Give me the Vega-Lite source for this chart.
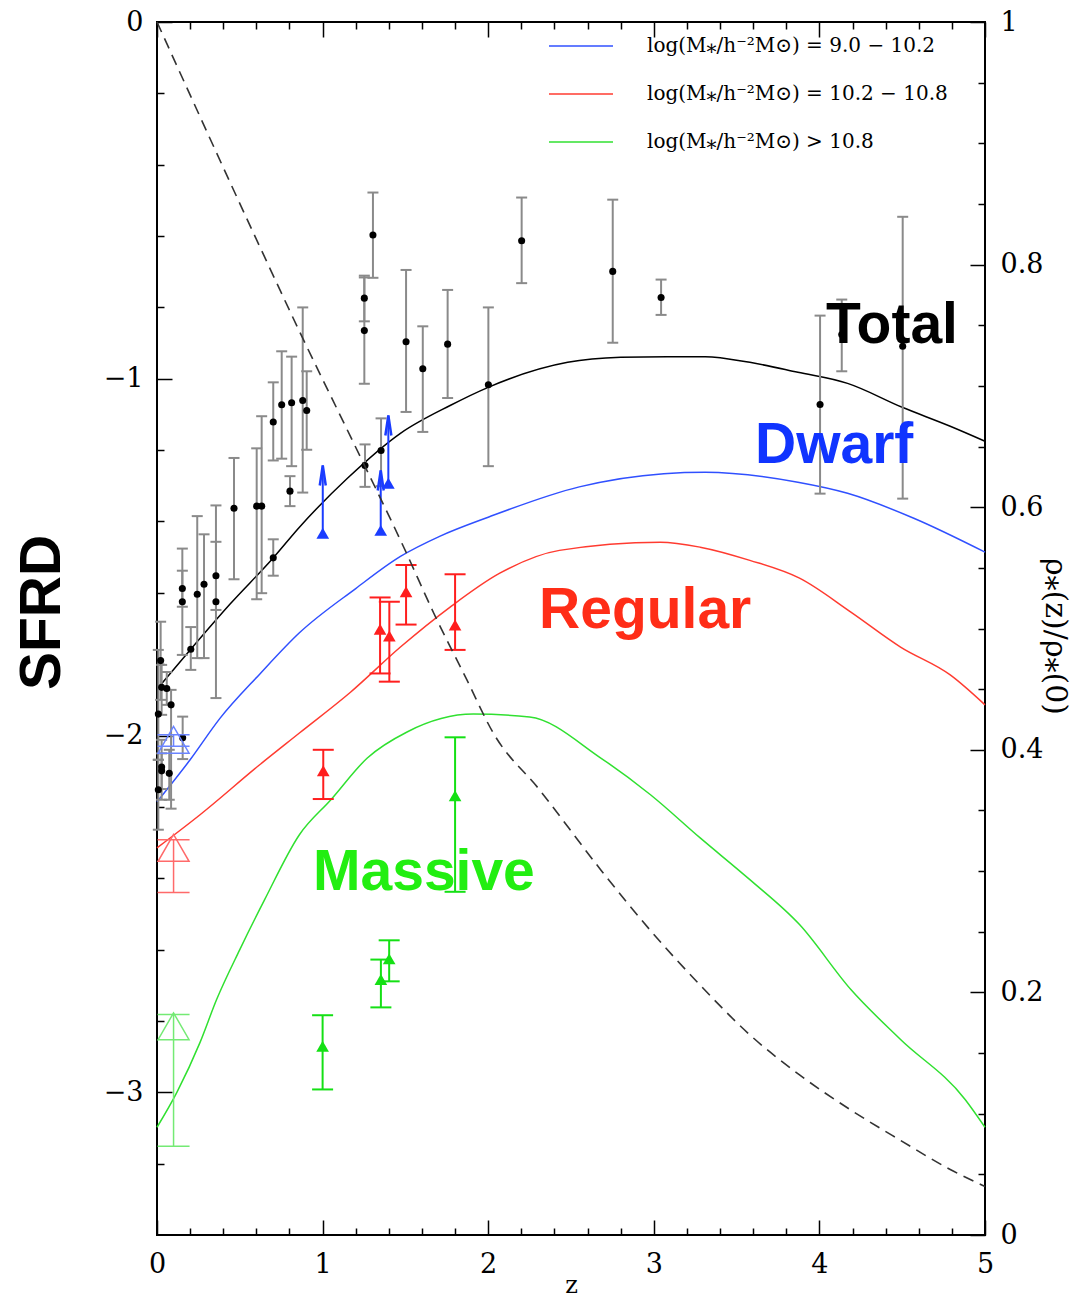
{
  "$schema": "https://vega.github.io/schema/vega-lite/v6.json",
  "width": 828,
  "height": 1213,
  "autosize": {"type": "none"},
  "padding": {"left": 157, "top": 22, "right": 87, "bottom": 63},
  "background": "white",
  "config": {
    "view": {"stroke": "#000000", "strokeWidth": 2},
    "axis": {"domain": false, "grid": false, "tickColor": "#000000", "tickWidth": 1.5, "labelFont": "DejaVu Serif", "labelFontSize": 27, "labelColor": "#000000", "titleColor": "#000000", "labelFlush": false}
  },
  "datasets": {
    "total": [
      {"z": 0, "sfrd": -1.870}, {"z": 0.2, "sfrd": -1.760}, {"z": 0.44, "sfrd": -1.632}, {"z": 0.7, "sfrd": -1.503},
      {"z": 0.86, "sfrd": -1.416}, {"z": 1.15, "sfrd": -1.279}, {"z": 1.47, "sfrd": -1.153}, {"z": 1.77, "sfrd": -1.075},
      {"z": 2.0, "sfrd": -1.024}, {"z": 2.48, "sfrd": -0.954}, {"z": 2.8, "sfrd": -0.940}, {"z": 3.08, "sfrd": -0.938},
      {"z": 3.31, "sfrd": -0.938}, {"z": 3.58, "sfrd": -0.954}, {"z": 3.87, "sfrd": -0.982}, {"z": 4.17, "sfrd": -1.013},
      {"z": 4.5, "sfrd": -1.080}, {"z": 4.79, "sfrd": -1.133}, {"z": 5.0, "sfrd": -1.175}
    ],
    "curves": [
      {"series": "dwarf", "z": 0, "sfrd": -2.186}, {"series": "dwarf", "z": 0.2, "sfrd": -2.068}, {"series": "dwarf", "z": 0.38, "sfrd": -1.952},
      {"series": "dwarf", "z": 0.62, "sfrd": -1.828}, {"series": "dwarf", "z": 0.86, "sfrd": -1.712}, {"series": "dwarf", "z": 1.2, "sfrd": -1.588},
      {"series": "dwarf", "z": 1.47, "sfrd": -1.498}, {"series": "dwarf", "z": 1.71, "sfrd": -1.441}, {"series": "dwarf", "z": 2.0, "sfrd": -1.388},
      {"series": "dwarf", "z": 2.55, "sfrd": -1.303}, {"series": "dwarf", "z": 3.06, "sfrd": -1.266}, {"series": "dwarf", "z": 3.31, "sfrd": -1.262},
      {"series": "dwarf", "z": 3.87, "sfrd": -1.290}, {"series": "dwarf", "z": 4.17, "sfrd": -1.321}, {"series": "dwarf", "z": 4.57, "sfrd": -1.391},
      {"series": "dwarf", "z": 5.0, "sfrd": -1.486},
      {"series": "regular", "z": 0, "sfrd": -2.315}, {"series": "regular", "z": 0.26, "sfrd": -2.222}, {"series": "regular", "z": 0.62, "sfrd": -2.082},
      {"series": "regular", "z": 0.86, "sfrd": -1.993}, {"series": "regular", "z": 1.17, "sfrd": -1.878}, {"series": "regular", "z": 1.47, "sfrd": -1.752},
      {"series": "regular", "z": 1.77, "sfrd": -1.640}, {"series": "regular", "z": 2.07, "sfrd": -1.545}, {"series": "regular", "z": 2.43, "sfrd": -1.481},
      {"series": "regular", "z": 3.04, "sfrd": -1.458}, {"series": "regular", "z": 3.28, "sfrd": -1.472}, {"series": "regular", "z": 3.58, "sfrd": -1.509},
      {"series": "regular", "z": 3.88, "sfrd": -1.559}, {"series": "regular", "z": 4.19, "sfrd": -1.654}, {"series": "regular", "z": 4.49, "sfrd": -1.752},
      {"series": "regular", "z": 4.79, "sfrd": -1.830}, {"series": "regular", "z": 5.0, "sfrd": -1.914},
      {"series": "massive", "z": 0, "sfrd": -3.098}, {"series": "massive", "z": 0.12, "sfrd": -3.0}, {"series": "massive", "z": 0.26, "sfrd": -2.86},
      {"series": "massive", "z": 0.36, "sfrd": -2.74}, {"series": "massive", "z": 0.5, "sfrd": -2.6}, {"series": "massive", "z": 0.65, "sfrd": -2.46},
      {"series": "massive", "z": 0.86, "sfrd": -2.278}, {"series": "massive", "z": 1.05, "sfrd": -2.18}, {"series": "massive", "z": 1.27, "sfrd": -2.063},
      {"series": "massive", "z": 1.51, "sfrd": -1.99}, {"series": "massive", "z": 1.91, "sfrd": -1.94}, {"series": "massive", "z": 2.25, "sfrd": -1.948},
      {"series": "massive", "z": 2.68, "sfrd": -2.063}, {"series": "massive", "z": 2.98, "sfrd": -2.166}, {"series": "massive", "z": 3.28, "sfrd": -2.287},
      {"series": "massive", "z": 3.58, "sfrd": -2.404}, {"series": "massive", "z": 3.88, "sfrd": -2.53}, {"series": "massive", "z": 4.19, "sfrd": -2.712},
      {"series": "massive", "z": 4.49, "sfrd": -2.852}, {"series": "massive", "z": 4.88, "sfrd": -3.02}, {"series": "massive", "z": 5.0, "sfrd": -3.098}
    ],
    "ratio": [
      {"z": 0, "frac": 1.0}, {"z": 0.62, "frac": 0.815}, {"z": 0.86, "frac": 0.745}, {"z": 1.18, "frac": 0.655},
      {"z": 1.49, "frac": 0.567}, {"z": 1.67, "frac": 0.513}, {"z": 1.87, "frac": 0.458}, {"z": 2.03, "frac": 0.414},
      {"z": 2.31, "frac": 0.367}, {"z": 2.68, "frac": 0.301}, {"z": 2.98, "frac": 0.251}, {"z": 3.28, "frac": 0.206},
      {"z": 3.58, "frac": 0.165}, {"z": 3.88, "frac": 0.132}, {"z": 4.19, "frac": 0.103}, {"z": 4.49, "frac": 0.078},
      {"z": 4.79, "frac": 0.054}, {"z": 5.0, "frac": 0.040}
    ],
    "obs": [
      {"z": 0.022, "sfrd": -1.790, "lo": -1.900, "hi": -1.681},
      {"z": 0.153, "sfrd": -1.588, "lo": -1.639, "hi": -1.476},
      {"z": 0.153, "sfrd": -1.625, "lo": -1.774, "hi": -1.538},
      {"z": 0.243, "sfrd": -1.604, "lo": -1.783, "hi": -1.385},
      {"z": 0.284, "sfrd": -1.576, "lo": -1.783, "hi": -1.436},
      {"z": 0.204, "sfrd": -1.758, "lo": -1.816, "hi": -1.696},
      {"z": 0.356, "sfrd": -1.552, "lo": -1.648, "hi": -1.355},
      {"z": 0.356, "sfrd": -1.625, "lo": -1.895, "hi": -1.457},
      {"z": 0.465, "sfrd": -1.363, "lo": -1.562, "hi": -1.222},
      {"z": 0.602, "sfrd": -1.357, "lo": -1.618, "hi": -1.195},
      {"z": 0.632, "sfrd": -1.357, "lo": -1.601, "hi": -1.105},
      {"z": 0.702, "sfrd": -1.502, "lo": -1.552, "hi": -1.450},
      {"z": 0.702, "sfrd": -1.121, "lo": -1.229, "hi": -1.010},
      {"z": 0.753, "sfrd": -1.073, "lo": -1.224, "hi": -0.923},
      {"z": 0.813, "sfrd": -1.067, "lo": -1.245, "hi": -0.938},
      {"z": 0.803, "sfrd": -1.315, "lo": -1.357, "hi": -1.273},
      {"z": 0.880, "sfrd": -1.061, "lo": -1.319, "hi": -0.800},
      {"z": 0.904, "sfrd": -1.089, "lo": -1.199, "hi": -0.979},
      {"z": 1.252, "sfrd": -0.774, "lo": -0.839, "hi": -0.711},
      {"z": 1.252, "sfrd": -0.865, "lo": -1.014, "hi": -0.716},
      {"z": 1.304, "sfrd": -0.597, "lo": -0.717, "hi": -0.478},
      {"z": 1.504, "sfrd": -0.896, "lo": -1.093, "hi": -0.695},
      {"z": 1.605, "sfrd": -0.972, "lo": -1.149, "hi": -0.853},
      {"z": 1.755, "sfrd": -0.903, "lo": -1.054, "hi": -0.751},
      {"z": 2.001, "sfrd": -1.017, "lo": -1.245, "hi": -0.800},
      {"z": 2.202, "sfrd": -0.613, "lo": -0.732, "hi": -0.492},
      {"z": 2.752, "sfrd": -0.699, "lo": -0.899, "hi": -0.498},
      {"z": 3.044, "sfrd": -0.772, "lo": -0.821, "hi": -0.722},
      {"z": 4.004, "sfrd": -1.072, "lo": -1.322, "hi": -0.823},
      {"z": 4.135, "sfrd": -0.876, "lo": -0.979, "hi": -0.778},
      {"z": 4.503, "sfrd": -0.909, "lo": -1.336, "hi": -0.546},
      {"z": 1.256, "sfrd": -1.243, "lo": -1.303, "hi": -1.184},
      {"z": 1.353, "sfrd": -1.201, "lo": -1.301, "hi": -1.111},
      {"z": 0.028, "sfrd": -1.865, "lo": -1.942, "hi": -1.802},
      {"z": 0.059, "sfrd": -1.868, "lo": -1.914, "hi": -1.822},
      {"z": 0.085, "sfrd": -1.914, "lo": -2.205, "hi": -1.872},
      {"z": 0.008, "sfrd": -1.940, "lo": -2.068, "hi": -1.760},
      {"z": 0.155, "sfrd": -2.006, "lo": -2.066, "hi": -1.947},
      {"z": 0.028, "sfrd": -2.088, "lo": -2.180, "hi": -2.012},
      {"z": 0.028, "sfrd": -2.099, "lo": -2.150, "hi": -2.050},
      {"z": 0.074, "sfrd": -2.106, "lo": -2.180, "hi": -2.040},
      {"z": 0.008, "sfrd": -2.152, "lo": -2.264, "hi": -2.068}
    ],
    "tri": [
      {"grp": "regular", "z": 1.504, "sfrd": -1.597, "lo": -1.689, "hi": -1.522},
      {"grp": "regular", "z": 1.347, "sfrd": -1.702, "lo": -1.826, "hi": -1.613},
      {"grp": "regular", "z": 1.403, "sfrd": -1.721, "lo": -1.849, "hi": -1.625},
      {"grp": "regular", "z": 1.800, "sfrd": -1.690, "lo": -1.760, "hi": -1.548},
      {"grp": "regular", "z": 1.004, "sfrd": -2.099, "lo": -2.178, "hi": -2.040},
      {"grp": "massive", "z": 1.800, "sfrd": -2.169, "lo": -2.438, "hi": -2.005},
      {"grp": "massive", "z": 1.000, "sfrd": -2.871, "lo": -2.992, "hi": -2.784},
      {"grp": "massive", "z": 1.352, "sfrd": -2.684, "lo": -2.762, "hi": -2.628},
      {"grp": "massive", "z": 1.402, "sfrd": -2.626, "lo": -2.689, "hi": -2.574}
    ],
    "open": [
      {"grp": "dwarf", "z": 0.1, "sfrd": -2.012, "lo": -2.030, "hi": -1.998},
      {"grp": "regular", "z": 0.1, "sfrd": -2.315, "lo": -2.440, "hi": -2.292},
      {"grp": "massive", "z": 0.1, "sfrd": -2.815, "lo": -3.151, "hi": -2.782}
    ],
    "arrows": [
      {"z": 1.001, "sfrd": -1.433, "top": -1.243},
      {"z": 1.351, "sfrd": -1.425, "top": -1.257},
      {"z": 1.397, "sfrd": -1.293, "top": -1.103}
    ],
    "labels": [
      {"label": "Total", "z": 4.04, "sfrd": -0.901},
      {"label": "Dwarf", "z": 3.611, "sfrd": -1.237},
      {"label": "Regular", "z": 2.307, "sfrd": -1.699},
      {"label": "Massive", "z": 0.942, "sfrd": -2.432}
    ]
  },
  "encoding": {
    "x": {"field": "z", "type": "quantitative", "scale": {"domain": [0, 5], "nice": false, "zero": false}, "axis": null},
    "y": {"field": "sfrd", "type": "quantitative", "scale": {"domain": [-3.4, 0], "nice": false, "zero": false}, "axis": null}
  },
  "layer": [
    {
      "data": {"name": "total"},
      "mark": {"type": "line", "color": "#000000", "strokeWidth": 1.5, "interpolate": "monotone"},
      "encoding": {
        "x": {"field": "z", "type": "quantitative", "scale": {"domain": [0, 5], "nice": false, "zero": false},
          "axis": {"orient": "bottom", "values": [0, 1, 2, 3, 4, 5], "tickSize": -15, "labelPadding": 31, "title": "z", "titleFont": "DejaVu Serif", "titleFontSize": 24, "titleFontWeight": "normal", "titlePadding": -4}},
        "y": {"field": "sfrd", "type": "quantitative", "scale": {"domain": [-3.4, 0], "nice": false, "zero": false},
          "axis": {"orient": "left", "values": [0, -1, -2, -3], "tickSize": -15, "labelPadding": 29, "title": "SFRD", "titleFont": "Liberation Sans", "titleFontSize": 57, "titleFontWeight": "bold", "titleAngle": -90, "titleAlign": "center", "titleBaseline": "alphabetic", "titleX": -98, "titleY": 590}}
      }
    },
    {
      "data": {"name": "curves"},
      "mark": {"type": "line", "strokeWidth": 1.5, "interpolate": "monotone"},
      "encoding": {
        "x": {"field": "z", "type": "quantitative", "scale": {"domain": [0, 5], "nice": false, "zero": false},
          "axis": {"orient": "bottom", "values": [0.2, 0.4, 0.6, 0.8, 1.2, 1.4, 1.6, 1.8, 2.2, 2.4, 2.6, 2.8, 3.2, 3.4, 3.6, 3.8, 4.2, 4.4, 4.6, 4.8], "tickSize": -7, "labels": false, "title": null}},
        "y": {"field": "sfrd", "type": "quantitative", "scale": {"domain": [-3.4, 0], "nice": false, "zero": false},
          "axis": {"orient": "left", "values": [-0.2, -0.4, -0.6, -0.8, -1.2, -1.4, -1.6, -1.8, -2.2, -2.4, -2.6, -2.8, -3.2], "tickSize": -7, "labels": false, "title": null}},
        "color": {"field": "series", "type": "nominal",
          "scale": {"domain": ["dwarf", "regular", "massive"], "range": ["#3050ff", "#ff3b30", "#30e030"]},
          "legend": {"orient": "none", "legendX": 391, "legendY": -9, "title": null, "direction": "vertical", "symbolType": "stroke", "symbolSize": 4096, "symbolStrokeWidth": 1.5, "labelFont": "DejaVu Serif", "labelFontSize": 20, "labelColor": "#000000", "labelOffset": 33, "rowPadding": 5, "labelLimit": 0, "padding": 0,
            "labelExpr": "datum.label == 'dwarf' ? 'log(M⁎/h⁻²M⊙) = 9.0 − 10.2' : datum.label == 'regular' ? 'log(M⁎/h⁻²M⊙) = 10.2 − 10.8' : 'log(M⁎/h⁻²M⊙) > 10.8'"}}
      }
    },
    {
      "data": {"name": "obs"},
      "mark": {"type": "rule", "color": "#8a8a8a", "strokeWidth": 2},
      "encoding": {
        "x": {"field": "z", "type": "quantitative", "scale": {"domain": [0, 5], "nice": false, "zero": false},
          "axis": {"orient": "top", "values": [0, 1, 2, 3, 4, 5], "tickSize": -15, "labels": false, "title": null}},
        "y": {"field": "lo", "type": "quantitative", "scale": {"domain": [-3.4, 0], "nice": false, "zero": false}, "axis": null},
        "y2": {"field": "hi"}
      }
    },
    {
      "data": {"name": "obs"},
      "transform": [{"fold": ["lo", "hi"], "as": ["end", "val"]}],
      "mark": {"type": "point", "shape": "M-1,0H1", "size": 121, "filled": false, "color": "#8a8a8a", "strokeWidth": 2, "opacity": 1},
      "encoding": {
        "x": {"field": "z", "type": "quantitative", "scale": {"domain": [0, 5], "nice": false, "zero": false},
          "axis": {"orient": "top", "values": [0.2, 0.4, 0.6, 0.8, 1.2, 1.4, 1.6, 1.8, 2.2, 2.4, 2.6, 2.8, 3.2, 3.4, 3.6, 3.8, 4.2, 4.4, 4.6, 4.8], "tickSize": -7, "labels": false, "title": null}},
        "y": {"field": "val", "type": "quantitative", "scale": {"domain": [-3.4, 0], "nice": false, "zero": false}, "axis": null}
      }
    },
    {
      "data": {"name": "obs"},
      "mark": {"type": "circle", "size": 50, "color": "#000000", "opacity": 1}
    },
    {
      "data": {"name": "tri"},
      "mark": {"type": "rule", "strokeWidth": 2},
      "encoding": {
        "y": {"field": "lo", "type": "quantitative", "scale": {"domain": [-3.4, 0], "nice": false, "zero": false}, "axis": null},
        "y2": {"field": "hi"},
        "color": {"field": "grp", "type": "nominal", "scale": {"domain": ["regular", "massive"], "range": ["#ff1e1e", "#14e014"]}, "legend": null}
      }
    },
    {
      "data": {"name": "tri"},
      "transform": [{"fold": ["lo", "hi"], "as": ["end", "val"]}],
      "mark": {"type": "point", "shape": "M-1,0H1", "size": 441, "filled": false, "strokeWidth": 2, "opacity": 1},
      "encoding": {
        "y": {"field": "val", "type": "quantitative", "scale": {"domain": [-3.4, 0], "nice": false, "zero": false}, "axis": null},
        "color": {"field": "grp", "type": "nominal", "scale": {"domain": ["regular", "massive"], "range": ["#ff1e1e", "#14e014"]}, "legend": null}
      }
    },
    {
      "data": {"name": "tri"},
      "mark": {"type": "point", "shape": "triangle-up", "size": 160, "filled": true, "opacity": 1},
      "encoding": {
        "color": {"field": "grp", "type": "nominal", "scale": {"domain": ["regular", "massive"], "range": ["#ff1e1e", "#14e014"]}, "legend": null}
      }
    },
    {
      "data": {"name": "open"},
      "mark": {"type": "rule", "strokeWidth": 1.5},
      "encoding": {
        "y": {"field": "lo", "type": "quantitative", "scale": {"domain": [-3.4, 0], "nice": false, "zero": false}, "axis": null},
        "y2": {"field": "hi"},
        "color": {"field": "grp", "type": "nominal", "scale": {"domain": ["dwarf", "regular", "massive"], "range": ["#6a84ff", "#ff6a6a", "#74ea74"]}, "legend": null}
      }
    },
    {
      "data": {"name": "open"},
      "transform": [{"fold": ["lo", "hi"], "as": ["end", "val"]}],
      "mark": {"type": "point", "shape": "M-1,0H1", "size": 1024, "filled": false, "strokeWidth": 1.5, "opacity": 1},
      "encoding": {
        "y": {"field": "val", "type": "quantitative", "scale": {"domain": [-3.4, 0], "nice": false, "zero": false}, "axis": null},
        "color": {"field": "grp", "type": "nominal", "scale": {"domain": ["dwarf", "regular", "massive"], "range": ["#6a84ff", "#ff6a6a", "#74ea74"]}, "legend": null}
      }
    },
    {
      "data": {"name": "open"},
      "mark": {"type": "point", "shape": "triangle-up", "size": 960, "filled": false, "strokeWidth": 1.5, "opacity": 1},
      "encoding": {
        "color": {"field": "grp", "type": "nominal", "scale": {"domain": ["dwarf", "regular", "massive"], "range": ["#6a84ff", "#ff6a6a", "#74ea74"]}, "legend": null}
      }
    },
    {
      "data": {"name": "arrows"},
      "mark": {"type": "rule", "color": "#1a3cff", "strokeWidth": 2},
      "encoding": {"y2": {"field": "top"}}
    },
    {
      "data": {"name": "arrows"},
      "mark": {"type": "point", "shape": "triangle-up", "size": 160, "filled": true, "color": "#1a3cff", "opacity": 1}
    },
    {
      "data": {"name": "arrows"},
      "mark": {"type": "point", "shape": "M-0.3,2L0,0L0.3,2", "size": 400, "filled": false, "color": "#1a3cff", "strokeWidth": 2.5, "opacity": 1},
      "encoding": {
        "y": {"field": "top", "type": "quantitative", "scale": {"domain": [-3.4, 0], "nice": false, "zero": false}, "axis": null}
      }
    },
    {
      "data": {"name": "ratio"},
      "mark": {"type": "line", "color": "#333333", "strokeWidth": 1.6, "strokeDash": [11, 7], "interpolate": "monotone"},
      "encoding": {
        "y": {"field": "frac", "type": "quantitative", "scale": {"domain": [0, 1], "nice": false, "zero": false},
          "axis": {"orient": "right", "values": [0, 0.2, 0.4, 0.6, 0.8, 1], "tickSize": -15, "labelPadding": 30, "format": "~g", "title": "ρ⁎(z)/ρ⁎(0)", "titleFont": "DejaVu Serif", "titleFontSize": 30, "titleFontWeight": "normal", "titleAngle": 90, "titleAlign": "center", "titleBaseline": "alphabetic", "titleX": 60, "titleY": 614}}
      }
    },
    {
      "data": {"name": "ratio"},
      "mark": {"type": "point", "opacity": 0},
      "encoding": {
        "y": {"field": "frac", "type": "quantitative", "scale": {"domain": [0, 1], "nice": false, "zero": false},
          "axis": {"orient": "right", "values": [0.05, 0.1, 0.15, 0.25, 0.3, 0.35, 0.45, 0.5, 0.55, 0.65, 0.7, 0.75, 0.85, 0.9, 0.95], "tickSize": -7, "labels": false, "title": null}}
      }
    },
    {
      "data": {"name": "labels"},
      "mark": {"type": "text", "align": "left", "baseline": "alphabetic", "font": "Liberation Sans", "fontWeight": "bold", "fontSize": 57},
      "encoding": {
        "text": {"field": "label"},
        "color": {"field": "label", "type": "nominal", "scale": {"domain": ["Total", "Dwarf", "Regular", "Massive"], "range": ["#000000", "#1034ff", "#ff2d17", "#22ee11"]}, "legend": null}
      }
    }
  ],
  "resolve": {"scale": {"y": "independent", "color": "independent"}, "axis": {"x": "independent"}}
}
